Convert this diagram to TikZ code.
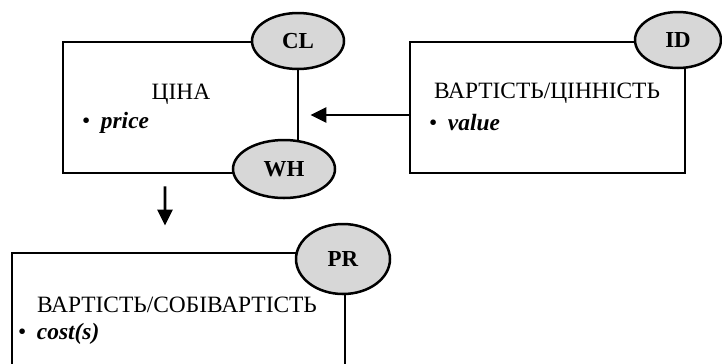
\documentclass[tikz,border=0pt]{standalone}
\usepackage{fontspec}
\setmainfont{Liberation Serif}
\usetikzlibrary{shapes.geometric,arrows.meta}
\definecolor{ellfill}{RGB}{215,215,215}
\tikzset{
  box/.style={draw=black, line width=2.8bp, rectangle, inner sep=0pt},
  tag/.style={draw=black, line width=2.5bp, fill=ellfill, ellipse, inner sep=0pt,
    font=\fontsize{23}{25}\selectfont\bfseries},
  title/.style={inner sep=0pt, font=\fontsize{23.5}{25}\selectfont},
  item/.style={inner sep=0pt, anchor=west, font=\fontsize{23.5}{25}\selectfont},
  arr/.style={line width=2.8bp, -{Triangle[length=16bp,width=15bp]}}
}
\newcommand{\bul}{\textbullet\hspace{0.45em}}
\begin{document}
\begin{tikzpicture}[x=1bp,y=-1bp]
\clip (0,0) rectangle (722,363);
\fill[white] (0,0) rectangle (722,363);
% boxes
\node[box, minimum width=235bp, minimum height=131bp] (box1) at (180.5,107.5) {};
\node[box, minimum width=275bp, minimum height=131bp] (box2) at (547.5,107.5) {};
\node[box, minimum width=333bp, minimum height=160bp] (box3) at (178.5,333) {};
% texts
\node[title] (t1) at (181,94) {ЦІНА};
\node[item] (i1) at (82,123) {\bul\textbf{\textit{price}}};
\node[title] (t2) at (547,93) {ВАРТІСТЬ/ЦІННІСТЬ};
\node[item] (i2) at (429,123) {\bul\textbf{\textit{value}}};
\node[title] (t3) at (177,305) {ВАРТІСТЬ/СОБІВАРТІСТЬ};
\node[item] (i3) at (18,334) {\bul\textbf{\textit{cost(s)}}};
% tags
\node[tag, minimum width=92bp, minimum height=56bp] (cl) at (298,41) {CL};
\node[tag, minimum width=102bp, minimum height=58bp] (wh) at (284,169) {WH};
\node[tag, minimum width=86bp, minimum height=56bp] (id) at (678,40) {ID};
\node[tag, minimum width=94bp, minimum height=70bp] (pr) at (343,259) {PR};
% connectors
\coordinate (a1) at ([yshift=-7.5bp]box2.west);
\coordinate (a2) at ([xshift=11bp,yshift=-7.5bp]box1.east);
\draw[arr] (a1) -- (a2);
\coordinate (b1) at ([xshift=-15.5bp,yshift=-12bp]box1.south);
\coordinate (b2) at ([xshift=-13.5bp,yshift=26bp]box3.north);
\draw[arr] (b1) -- (b2);
\end{tikzpicture}
\end{document}
